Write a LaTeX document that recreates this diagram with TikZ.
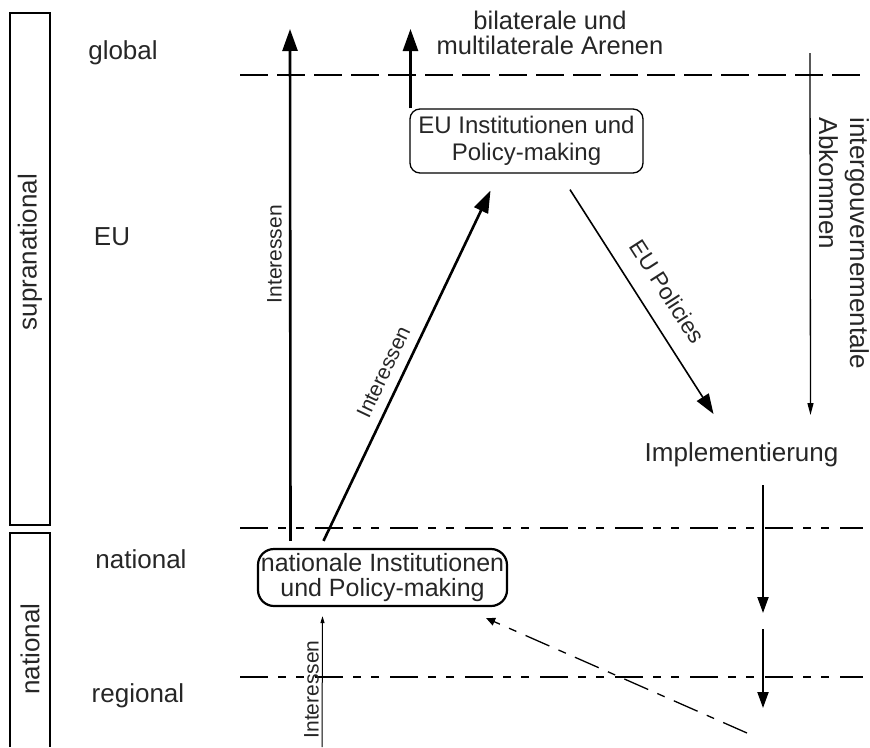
\documentclass[tikz,border=0pt]{standalone}
\usepackage{fontspec}
\setmainfont{Liberation Sans}
\usetikzlibrary{arrows.meta,positioning,calc}

\newcommand{\fsz}[2]{\fontsize{#1}{#2}\selectfont}

\begin{document}
\begin{tikzpicture}[x=10pt,y=-10pt,
    every node/.style={text=black!85},
    level/.style={font=\fsz{26pt}{30pt}},
    small/.style={font=\fsz{21pt}{24pt}},
    thinline/.style={line width=1.3pt},
    globalline/.style={line width=1.3pt, dash pattern=on 28pt off 9pt},
    levelline/.style={line width=1.3pt, dash pattern=on 28pt off 10pt on 8pt off 10pt on 8pt off 11pt},
    bigarrow/.style={line width=2.6pt, -{Triangle[length=22pt,width=15pt]}},
    midarrow/.style={line width=1.6pt, -{Triangle[length=20pt,width=14pt]}},
    downarrow/.style={line width=2pt, -{Triangle[length=16pt,width=11pt]}},
    thinarrow/.style={line width=1.3pt, -{Triangle[length=12pt,width=6pt]}},
    tinyarrow/.style={line width=1pt, -{Triangle[length=7pt,width=4pt]}},
    dasharrow/.style={line width=1.3pt, dash pattern=on 26pt off 10pt on 8pt off 10pt, -{Triangle[length=9pt,width=8pt]}}
  ]
  \useasboundingbox (0,0) rectangle (87,74.7);

  % Left boxes
  \draw[thinline] (1,1.3) rectangle (5,52.5);
  \draw[thinline] (1,74.7) -- (1,53.3) -- (5,53.3) -- (5,74.7);
  \node[level, rotate=90] (supra) at (3,25.2) {supranational};
  \node[level, rotate=90] (natside) at (3,64.9) {national};

  % Levels
  \node[level] (global) at (12.3,5.25) {global};
  \node[level] (eulevel) at (11.2,23.7) {EU};
  \node[level] (natlevel) at (14.1,55.9) {national};
  \node[level] (reglevel) at (13.8,69.6) {regional};

  % Level lines
  \draw[globalline] (24,7.5) -- (86.3,7.5);
  \draw[levelline] (24,52.8) -- (86.3,52.8);
  \draw[levelline] (24,67.7) -- (86.3,67.7);

  % Institutions
  \node[draw, line width=1.3pt, rounded corners=10pt, minimum width=233pt,
        minimum height=64pt, align=center, font=\fsz{24pt}{27pt}]
        (eu) at (52.65,14.1) {EU Institutionen und\\Policy-making};
  \node[draw, line width=2.2pt, rounded corners=16pt, minimum width=249pt,
        minimum height=57pt, inner xsep=2pt, align=center, font=\fsz{25pt}{25pt}]
        (nat) at (38.25,57.75) {nationale Institutionen\\und Policy-making};

  \node[align=center, font=\fsz{25.5pt}{25pt}] (arenen) at (55,3.3)
        {bilaterale und\\multilaterale Arenen};
  \node[level] (impl) at (74.15,45.5) {Implementierung};
  \node[level, rotate=-90, align=left, font=\fsz{26pt}{31pt}] (intergov) at (84.4,24.35)
        {intergouvernementale\\Abkommen};

  % Free ends
  \coordinate (globaltop) at (29,2.9);
  \coordinate (arenatop) at (41.05,2.9);
  \coordinate (igtop) at (81,5.3);
  \coordinate (regbottom) at (32.2,74.7);
  \coordinate (regend) at (74.7,73.3);
  \coordinate (impdown) at (76.3,48.5);
  \coordinate (natdown) at (76.3,61.3);
  \coordinate (regdown) at (76.3,62.9);
  \coordinate (regtip) at (76.3,70.8);

  % Interests
  \draw[bigarrow] ([xshift=-92pt,yshift=7pt]nat.north) -- node[pos=0.56, rotate=90, anchor=south, small, inner ysep=7pt] {Interessen} (globaltop);
  \draw[bigarrow] ([xshift=-59pt,yshift=7pt]nat.north) -- node[pos=0.46, rotate=64.6, anchor=south, small, inner ysep=10pt] {Interessen} ([xshift=-36pt,yshift=-17pt]eu.south);
  \draw[tinyarrow] (regbottom) -- node[pos=0.44, rotate=90, anchor=south, small, inner ysep=3pt] {Interessen} ([xshift=-60pt,yshift=-9pt]nat.south);
  \draw[bigarrow] (eu.north -| arenatop) -- (arenatop);

  % Policies
  \draw[midarrow] ([xshift=43.5pt,yshift=-16pt]eu.south) -- node[pos=0.52, rotate=-57.3, anchor=south, font=\fsz{23pt}{26pt}, inner ysep=18pt] {EU Policies} ([xshift=-28pt,yshift=41pt]impl.center);
  \draw[thinarrow] (igtop) -- ([xshift=69pt,yshift=40pt]impl.center);

  % Implementation
  \draw[downarrow] (impdown) -- (natdown);
  \draw[downarrow] (regdown) -- (regtip);
  \draw[dasharrow] (regend) -- ([xshift=-22pt,yshift=-11pt]nat.south east);
\end{tikzpicture}
\end{document}
